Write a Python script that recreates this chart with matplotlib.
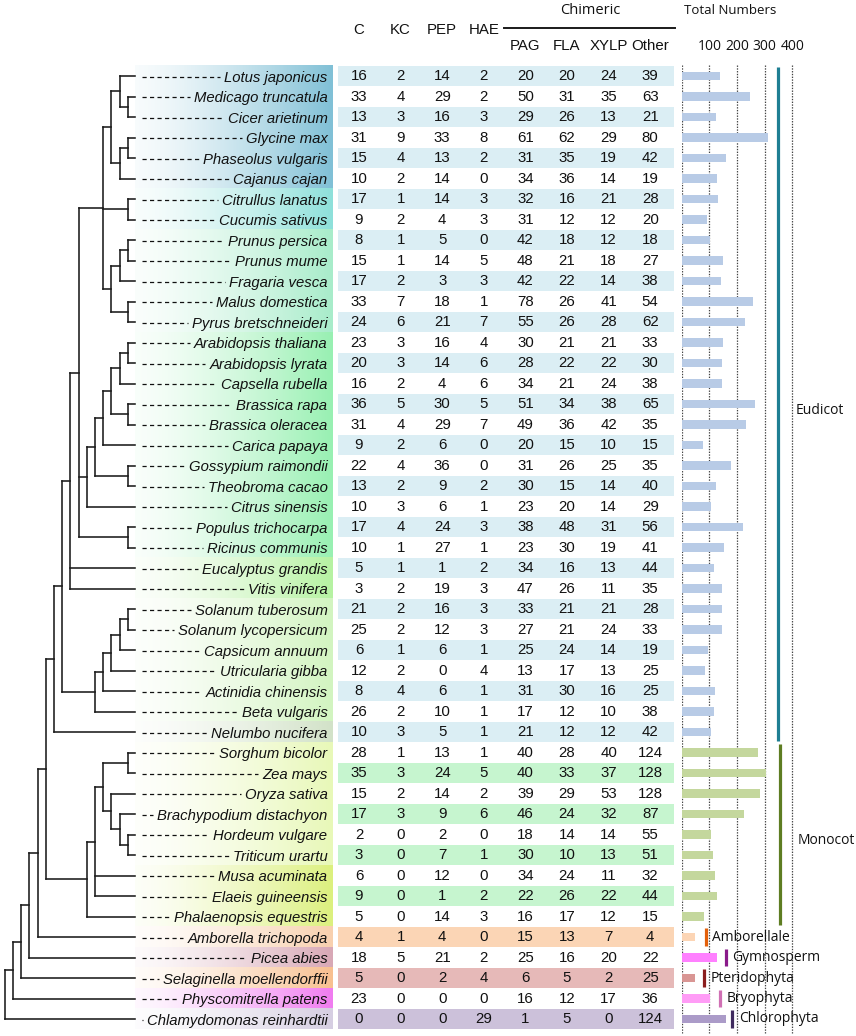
import numpy as np
import matplotlib
matplotlib.use("Agg")
import matplotlib.pyplot as plt
from matplotlib.patches import Rectangle
from matplotlib.colors import to_rgb

plt.rcParams["font.family"] = ["Liberation Sans", "DejaVu Sans"]
plt.rcParams["lines.scale_dashes"] = False

species = [
    "Lotus japonicus", "Medicago truncatula", "Cicer arietinum", "Glycine max",
    "Phaseolus vulgaris", "Cajanus cajan", "Citrullus lanatus", "Cucumis sativus",
    "Prunus persica", "Prunus mume", "Fragaria vesca", "Malus domestica",
    "Pyrus bretschneideri", "Arabidopsis thaliana", "Arabidopsis lyrata",
    "Capsella rubella", "Brassica rapa", "Brassica oleracea", "Carica papaya",
    "Gossypium raimondii", "Theobroma cacao", "Citrus sinensis",
    "Populus trichocarpa", "Ricinus communis", "Eucalyptus grandis",
    "Vitis vinifera", "Solanum tuberosum", "Solanum lycopersicum",
    "Capsicum annuum", "Utricularia gibba", "Actinidia chinensis",
    "Beta vulgaris", "Nelumbo nucifera", "Sorghum bicolor", "Zea mays",
    "Oryza sativa", "Brachypodium distachyon", "Hordeum vulgare",
    "Triticum urartu", "Musa acuminata", "Elaeis guineensis",
    "Phalaenopsis equestris", "Amborella trichopoda", "Picea abies",
    "Selaginella moellendorffii", "Physcomitrella patens",
    "Chlamydomonas reinhardtii",
]
C = [16, 33, 13, 31, 15, 10, 17, 9, 8, 15, 17, 33, 24, 23, 20, 16, 36, 31, 9, 22,
     13, 10, 17, 10, 5, 3, 21, 25, 6, 12, 8, 26, 10, 28, 35, 15, 17, 2, 3, 6, 9,
     5, 4, 18, 5, 23, 0]
KC = [2, 4, 3, 9, 4, 2, 1, 2, 1, 1, 2, 7, 6, 3, 3, 2, 5, 4, 2, 4, 2, 3, 4, 1, 1,
      2, 2, 2, 1, 2, 4, 2, 3, 1, 3, 2, 3, 0, 0, 0, 0, 0, 1, 5, 0, 0, 0]
PEP = [14, 29, 16, 33, 13, 14, 14, 4, 5, 14, 3, 18, 21, 16, 14, 4, 30, 29, 6, 36,
       9, 6, 24, 27, 1, 19, 16, 12, 6, 0, 6, 10, 5, 13, 24, 14, 9, 2, 7, 12, 1,
       14, 4, 21, 2, 0, 0]
HAE = [2, 2, 3, 8, 2, 0, 3, 3, 0, 5, 3, 1, 7, 4, 6, 6, 5, 7, 0, 0, 2, 1, 3, 1, 2,
       3, 3, 3, 1, 4, 1, 1, 1, 1, 5, 2, 6, 0, 1, 0, 2, 3, 0, 2, 4, 0, 29]
PAG = [20, 50, 29, 61, 31, 34, 32, 31, 42, 48, 42, 78, 55, 30, 28, 34, 51, 49, 20,
       31, 30, 23, 38, 23, 34, 47, 33, 27, 25, 13, 31, 17, 21, 40, 40, 39, 46, 18,
       30, 34, 22, 16, 15, 25, 6, 16, 1]
FLA = [20, 31, 26, 62, 35, 36, 16, 12, 18, 21, 22, 26, 26, 21, 22, 21, 34, 36, 15,
       26, 15, 20, 48, 30, 16, 26, 21, 21, 24, 17, 30, 12, 12, 28, 33, 29, 24, 14,
       10, 24, 26, 17, 13, 16, 5, 12, 5]
XYLP = [24, 35, 13, 29, 19, 14, 21, 12, 12, 18, 14, 41, 28, 21, 22, 24, 38, 42, 10,
        25, 14, 14, 31, 19, 13, 11, 21, 24, 14, 13, 16, 10, 12, 40, 37, 53, 32, 14,
        13, 11, 22, 12, 7, 20, 2, 17, 0]
OTHER = [39, 63, 21, 80, 42, 19, 28, 20, 18, 27, 38, 54, 62, 33, 30, 38, 65, 35, 15,
         35, 40, 29, 56, 41, 44, 35, 28, 33, 19, 25, 25, 38, 42, 124, 128, 128, 87,
         55, 51, 32, 44, 15, 4, 22, 25, 36, 124]
columns = ["C", "KC", "PEP", "HAE", "PAG", "FLA", "XYLP", "Other"]
table = [C, KC, PEP, HAE, PAG, FLA, XYLP, OTHER]

# cladogram, leaves are row indices
legumes = ((0, (1, 2)), ((3, 4), 5))
rosids1 = (legumes, (6, 7), (((8, 9), 10), (11, 12)))
brassicales = ((((13, 14), 15), (16, 17)), 18)
malvids = ((brassicales, (19, 20)), 21)
rosids = ((rosids1, malvids, (22, 23)), 24, 25)
asterids = (((((26, 27), 28), 29), 30), 31)
eudicots = ((rosids, asterids), 32)
monocots = ((((33, 34), (35, (36, (37, 38)))), 39, 40), 41)
tree = ((((((eudicots, monocots), 42), 43), 44), 45), 46)

groups = ["Eudicot", "Monocot", "Amborellale", "Gymnosperm", "Pteridophyta",
          "Bryophyta", "Chlorophyta"]
group_rows = [(0, 32), (33, 41), (42, 42), (43, 43), (44, 44), (45, 45), (46, 46)]

# styles
group_line_x = [350, 355, 87, 159, 80, 138, 182]
group_line_col = ["#1f7f93", "#5e7d22", "#e4600a", "#8a1a8a", "#8b1e1e",
                  "#d070b4", "#3f2a5e"]
group_bar_col = ["#b8cbe6", "#c4d79d", "#fcd5b5", "#ff80ff", "#d99694",
                 "#ff9cf6", "#ab9bc8"]
group_stripe_col = ["#dbeef4", "#c6f5cf", "#fbd5b5", "#ffffff", "#e6b9b8",
                    "#ffffff", "#ccc1da"]
panel_blocks = [(0, 5, "#80c0d6"), (6, 7, "#8ee0da"), (8, 12, "#a8ecca"),
                (13, 23, "#98f0b2"), (24, 25, "#b6f2a2"), (26, 31, "#d2f4c0"),
                (32, 32, "#d2e2c8"), (33, 38, "#e8f8b8"), (39, 41, "#dcf07e"),
                (42, 42, "#f8d0ae"), (43, 43, "#d8a8b6"), (44, 44, "#f8c090"),
                (45, 45, "#f07cf0"), (46, 46, "#d6cee2")]

W, H = 856, 1036
ROW0, ROWH = 76.0, 20.5
n = len(species)
ylim = ((H - ROW0) / ROWH, -ROW0 / ROWH)

fig = plt.figure(figsize=(W / 100, H / 100), dpi=100)
ax = fig.add_axes([0, 0, 1, 1])
ax.set_xlim(0, W)
ax.set_ylim(*ylim)
ax.axis("off")

BAR_X0, BAR_PX = 681.7, 0.2765
bx = fig.add_axes([BAR_X0 / W, 0, (W - BAR_X0) / W, 1])
bx.set_xlim(0, (W - BAR_X0) / BAR_PX)
bx.set_ylim(*ylim)
bx.axis("off")
bx.patch.set_alpha(0)

# gradient panel behind names
PANEL_L, PANEL_R = 135, 333
img = np.ones((n, 200, 3))
t = np.linspace(0, 1, 200)
a = 0.06 + 0.94 * t ** 1.4
for r0, r1, col in panel_blocks:
    rgb = np.array(to_rgb(col))
    for i in range(r0, r1 + 1):
        img[i] = (1 - a)[:, None] * 1.0 + a[:, None] * rgb
ax.imshow(img, extent=[PANEL_L, PANEL_R, n - 0.5, -0.5], aspect="auto",
          interpolation="nearest", zorder=0)

# tree
TIP_X, STEP = 136.0, 8.2


def draw(node):
    if isinstance(node, int):
        return node, PANEL_L, 0
    res = [draw(c) for c in node]
    h = max(r[2] for r in res) + 1
    x = TIP_X - STEP * h
    ys = [r[0] for r in res]
    for cy, cx, _ in res:
        ax.plot([x, cx], [cy, cy], color="#1a1a1a", lw=1.15,
                solid_capstyle="projecting", zorder=2)
    ax.plot([x, x], [min(ys), max(ys)], color="#1a1a1a", lw=1.15,
            solid_capstyle="projecting", zorder=2)
    return (min(ys) + max(ys)) / 2, x, h


draw(tree)

# names
name_texts = []
for i, s in enumerate(species):
    name_texts.append(ax.text(327.5, i, s, ha="right", va="center_baseline",
                              style="italic", fontsize=10.7, color="#111",
                              zorder=3))

# row stripes and numbers
row_group = []
for g, (r0, r1) in enumerate(group_rows):
    row_group += [g] * (r1 - r0 + 1)
col_x = [359 + 41.6 * j for j in range(len(columns))]
for i in range(n):
    if i % 2 == 0:
        ax.add_patch(Rectangle((338, i - 0.48), 336, 0.96,
                               color=group_stripe_col[row_group[i]], lw=0,
                               zorder=1))
    for j, vals in enumerate(table):
        ax.text(col_x[j], i, str(vals[i]), ha="center", va="center",
                fontsize=10.8, color="#111", zorder=3)

# headers
for j, c in enumerate(columns):
    yy = -2.22 if j < 4 else -1.44
    ax.text(col_x[j], yy, c, ha="center", va="center", fontsize=10.8,
            color="#111")
ax.text(590, -3.2, "Chimeric", ha="center", va="center", fontsize=10.5,
        family=["Open Sans", "DejaVu Sans"], color="#111")
ax.plot([504, 675], [-2.34, -2.34], color="#1a1a1a", lw=1.4)

# dashed leaders up to each name
fig.canvas.draw()
rend = fig.canvas.get_renderer()
inv = ax.transData.inverted()
for i, tx in enumerate(name_texts):
    bb = tx.get_window_extent(rend)
    left = inv.transform((bb.x0, bb.y0))[0]
    ax.plot([142, left - 4], [i + 0.04, i + 0.04], color="#111", lw=0.9,
            linestyle=(0, (3.0, 2.4)), zorder=3)

# total number bars
totals = [sum(vals[i] for vals in table) for i in range(n)]
bx.barh(range(n), totals, height=0.42,
        color=[group_bar_col[g] for g in row_group], zorder=2)
ticks = [0, 100, 200, 300, 400]
bx.vlines(ticks, -0.55, n - 0.3, colors="#444", lw=0.9,
          linestyles=[(0, (1, 1))], zorder=1)
for tk in ticks[1:]:
    bx.text(tk, -1.46, str(tk), ha="center", va="center", fontsize=10,
            family=["Open Sans", "DejaVu Sans"], color="#111")
bx.text(175, -3.2, "Total Numbers", ha="center", va="center", fontsize=9.5,
        family=["Open Sans", "DejaVu Sans"], color="#111")

# group markers
for g, name in enumerate(groups):
    r0, r1 = group_rows[g]
    gx = group_line_x[g]
    bx.vlines(gx, r0 - 0.42, r1 + 0.42, colors=group_line_col[g], lw=2.3,
              zorder=3)
    if r1 > r0:
        ty = (r0 + r1) / 2 + 0.3
        tx = gx + 63
    else:
        ty = r0
        tx = gx + 24
    bx.text(tx, ty, name, ha="left", va="center", fontsize=10,
            family=["Open Sans", "DejaVu Sans"], color="#111")

fig.savefig("out.png", dpi=100)
